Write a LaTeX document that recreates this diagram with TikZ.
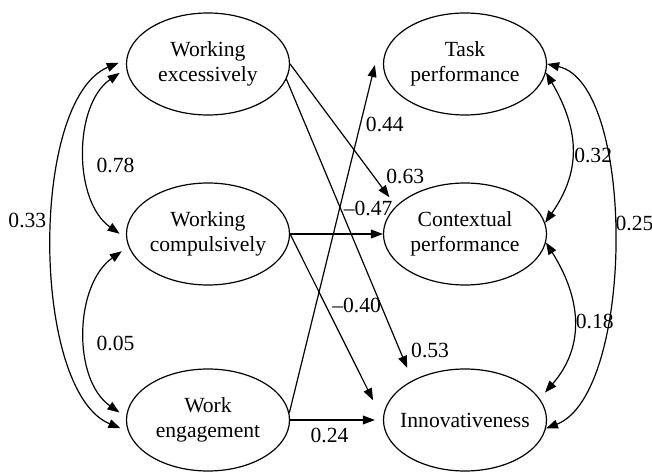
\documentclass[tikz,border=0pt]{standalone}
\usepackage{fontspec}
\setmainfont{Liberation Serif}
\usepackage{tikz}
\usetikzlibrary{shapes.geometric, arrows.meta}
\tikzstyle{construct} = [ellipse, draw=black, line width=0.6pt, minimum width=81.5pt, minimum height=51pt, inner ysep=0pt, inner xsep=-1pt, align=center, font=\fontsize{10.8}{12.5}\selectfont]
\tikzstyle{effect} = [line width=0.6pt, -{Triangle[length=6pt, width=4.4pt]}]
\tikzstyle{corr} = [line width=0.6pt, {Triangle[length=6pt, width=4.4pt]}-{Triangle[length=6pt, width=4.4pt]}]
\tikzstyle{coef} = [inner sep=1pt, font=\fontsize{10.8}{12.5}\selectfont]

\begin{document}
\begin{tikzpicture}[x=0.5pt, y=0.5pt, node distance=85pt]
\useasboundingbox (0,0) rectangle (652,471);

\node (exc) [construct] at (208,407) {Working\\excessively};
\node (comp) [construct, below of=exc] {Working\\compulsively};
\node (eng) [construct, below of=comp, yshift=-8pt] {Work\\engagement};
\node (task) [construct, right of=exc, xshift=43.5pt] {Task\\performance};
\node (ctx) [construct, below of=task] {Contextual\\performance};
\node (inno) [construct, below of=ctx, yshift=-8pt, inner xsep=-4pt] {Innovativeness};

\draw [corr, shorten <=4pt, shorten >=4pt] (exc.177) .. controls +(-97,-40) and +(-97,40) .. (eng.188) node (l33) [coef, pos=0.45, left=3pt] {0.33};
\draw [corr, shorten <=4pt, shorten >=4pt] (exc.183) .. controls +(-53,-37) and +(-53,37) .. (comp.183) node (l78) [coef, pos=0.56, right=3.5pt] {0.78};
\draw [corr, shorten <=4pt, shorten >=4pt] (comp.189) .. controls +(-54,-38) and +(-54,38) .. (eng.178) node (l05) [coef, pos=0.56, right=3.5pt] {0.05};

\draw [corr] (task.0) .. controls +(89,-20) and +(89,35) .. (inno.354) node (l25) [coef, pos=0.465, right] {0.25};
\draw [corr] (task.354) .. controls +(35,-60) and +(35,50) .. (ctx.8) node (l32) [coef, pos=0.53, right] {0.32};
\draw [corr, shorten >=4pt] (ctx.354) .. controls +(39,-62) and +(42,48) .. (inno.16) node (l18) [coef, pos=0.47, right] {0.18};

\draw [effect, shorten >=5.5pt] (exc.east) -- node (l63) [coef, pos=0.79, right=5pt] {0.63} (ctx.158);
\draw [effect, shorten >=6.75pt] (exc.349) -- node (l53) [coef, pos=0.9, right=4.4pt] {0.53} (inno.143);
\draw [effect] (comp.east) -- node (l47) [coef, pos=0.84, above=7.7pt] {–0.47} (ctx.west);
\draw [effect, shorten >=11pt] (comp.east) -- node (l40) [coef, pos=0.384, right=2pt] {–0.40} (inno.west);
\draw [effect] (eng.5) -- node (l44) [coef, pos=0.83, right=1.5pt] {0.44} ([xshift=-4pt, yshift=-0.5pt]task.west);
\draw [effect, shorten >=4pt] (eng.east) -- node (l24) [coef, pos=0.425, below=3pt] {0.24} (inno.west);

\end{tikzpicture}
\end{document}
